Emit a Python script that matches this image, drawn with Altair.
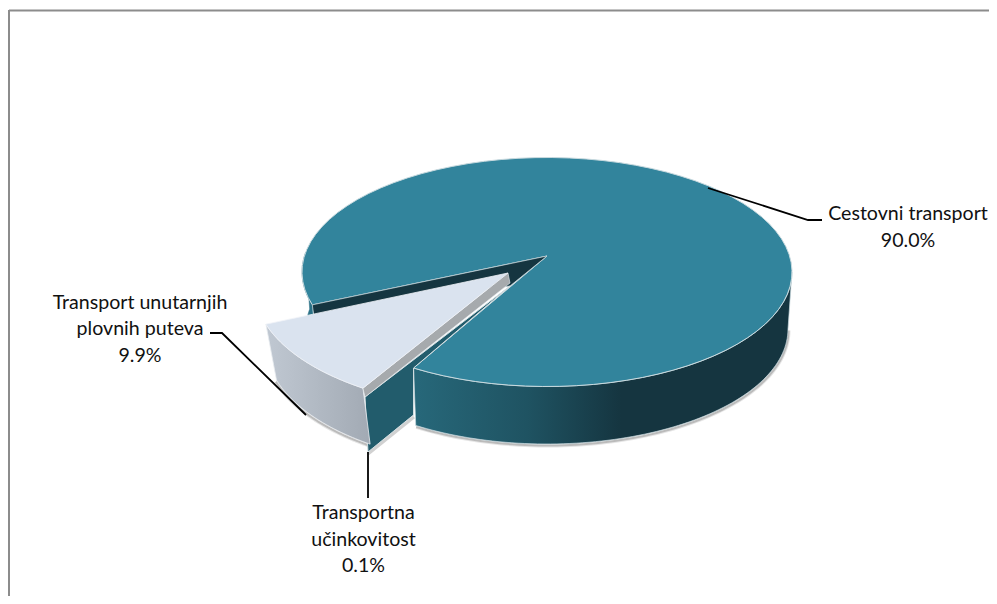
import math
import altair as alt
import pandas as pd

categories = ["Cestovni transport", "Transport unutarnjih plovnih puteva", "Transportna učinkovitost"]
shares = [90.0, 9.9, 0.1]
label_lines = [
    ["Cestovni transport", "90.0%"],
    ["Transport unutarnjih", "plovnih puteva", "9.9%"],
    ["Transportna", "učinkovitost", "0.1%"],
]

W, H = 989, 596
sx = alt.Scale(domain=[8, W], range=[0, W - 8], nice=False, zero=False)
sy = alt.Scale(domain=[8, H], range=[0, H - 8], nice=False, zero=False)


def rim(cx, cy, a, b, t0, t1, n=80):
    # t in degrees, clockwise on screen from the bottom of the ellipse
    pts = []
    for i in range(n + 1):
        t = math.radians(t0 + (t1 - t0) * i / n)
        pts.append((cx - a * math.sin(t), cy + b * math.cos(t)))
    return pts


def poly(pts, **mark):
    df = pd.DataFrame({"x": [p[0] for p in pts], "y": [p[1] for p in pts], "o": list(range(len(pts)))})
    return alt.Chart(df).mark_line(interpolate="linear-closed", **mark).encode(
        x=alt.X("x:Q", scale=sx, axis=None),
        y=alt.Y("y:Q", scale=sy, axis=None),
        order="o:Q",
    )


def path(pts, **mark):
    df = pd.DataFrame({"x": [p[0] for p in pts], "y": [p[1] for p in pts], "o": list(range(len(pts)))})
    return alt.Chart(df).mark_line(**mark).encode(
        x=alt.X("x:Q", scale=sx, axis=None),
        y=alt.Y("y:Q", scale=sy, axis=None),
        order="o:Q",
    )


def hgrad(*stops):
    return alt.LinearGradient(
        gradient="linear", x1=0, y1=0, x2=1, y2=0,
        stops=[alt.GradientStop(offset=o, color=c) for o, c in stops],
    )


# slice boundaries on the rim
T_START = 33.0
PERSPECTIVE = 1.07
t_sliver = T_START + shares[2] * 3.6 * 5.5
t_light = t_sliver + shares[1] * 3.6 * PERSPECTIVE
t_main = t_light + 0.2

# main slice
C = (547, 272); A, B = 245, 114.5
APEX = (547, 256)
DEPTH = 57
C2 = (547, C[1] + DEPTH); A2, B2 = 241, 115

top_rim = rim(*C, A, B, t_main, 360 + T_START)
main_top = [APEX] + top_rim

front_top = rim(*C, A, B, T_START, -90)
front_bot = rim(*C2, A2, B2, T_START, -90)
main_wall = front_top + front_bot[::-1]

left_top = rim(*C, A, B, t_main, 100)
left_bot = rim(*C2, A2, B2, t_main, 100)
left_wall = left_top + left_bot[::-1]

main_end = top_rim[0]
main_start = top_rim[-1]
edge_pt = (510, 286)
inner_dark = [main_end, APEX, edge_pt, (main_end[0] + 1.5, main_end[1] + 11)]
cut_face = [(365, 397), edge_pt, main_start, (413.5, 415), (368, 452)]

# exploded slice
L_APEX = (508, 273)
LC = (508, 289); LA, LB = 253, 121
light_rim = rim(*LC, LA, LB, t_sliver, t_light)
light_top = [L_APEX] + light_rim
LD = 56
LC2 = (510, LC[1] + LD); LA2, LB2 = 244, 121
light_bot = rim(*LC2, LA2, LB2, t_sliver, t_light)
light_wall = light_rim + light_bot[::-1]
light_strip = [L_APEX, (510, 283), (365, 397), light_rim[0]]

# shadows
shadow_main = [(x + 0.5, y + 1.5) for x, y in front_bot]
shadow_light = [(x - 0.5, y + 1.5) for x, y in light_bot]
shadow_face = [(368, 454), (414, 417)]

TEAL = "#32849c"
DARK = "#153540"
FACE = "#225c6c"
EDGE = "#c9dadf"

layers = [
    # frame
    path([(9, 10.5), (W, 10.5)], stroke="#8c8c8c", strokeWidth=2),
    path([(9, 10), (9, H)], stroke="#8c8c8c", strokeWidth=2),
    # shadows
    path(shadow_main, stroke="#000000", strokeWidth=4, opacity=0.10),
    path(shadow_main, stroke="#000000", strokeWidth=2, opacity=0.18),
    path(shadow_light, stroke="#000000", strokeWidth=4, opacity=0.10),
    path(shadow_light, stroke="#000000", strokeWidth=2, opacity=0.18),
    path(shadow_face, stroke="#000000", strokeWidth=3, opacity=0.18),
    # walls
    poly(left_wall, fill="#2a7186", stroke="#2a7186", strokeWidth=0.5),
    poly(main_wall, fill=hgrad((0, "#27687a"), (0.3, "#1f5362"), (0.55, "#153540"), (1, "#153540")),
         stroke=EDGE, strokeWidth=0.7),
    poly(main_top, fill=TEAL, stroke=EDGE, strokeWidth=1),
    poly(inner_dark, fill=DARK, stroke=EDGE, strokeWidth=0.7),
    poly(cut_face, fill=FACE, stroke="#d5dfe2", strokeWidth=1),
    poly(light_wall, fill=hgrad((0, "#c0c8d2"), (1, "#a2aab4")), stroke="#e8ecf0", strokeWidth=0.8),
    poly(light_strip, fill="#a6aaad", stroke="#e8ecf0", strokeWidth=0.6),
    poly(light_top, fill="#dae3ef", stroke="#f0f3f7", strokeWidth=0.8),
    # leaders
    path([(708, 188), (808, 220), (822, 220)], stroke="black", strokeWidth=1.8),
    path([(210, 333), (222, 333), (306, 415)], stroke="black", strokeWidth=1.8),
    path([(368, 452), (368, 498)], stroke="black", strokeWidth=1.8),
]

# labels
text_rows = []
anchors = [(908, 214), (140, 302.5), (363.5, 513)]
for lines, (ax, ay) in zip(label_lines, anchors):
    for i, line in enumerate(lines):
        text_rows.append({"x": ax, "y": ay + 26.5 * i, "t": line})
labels = alt.Chart(pd.DataFrame(text_rows)).mark_text(
    font="Lato", fontSize=19.6, color="#111111", align="center", baseline="middle"
).encode(
    x=alt.X("x:Q", scale=sx, axis=None),
    y=alt.Y("y:Q", scale=sy, axis=None),
    text="t:N",
)
layers.append(labels)

chart = alt.layer(*layers).properties(
    width=W - 8, height=H - 8, padding=0, autosize=alt.AutoSizeParams(type="none"), background="white"
).configure_view(stroke=None)

chart.save("out.html", embed_options={"renderer": "svg", "actions": False})
